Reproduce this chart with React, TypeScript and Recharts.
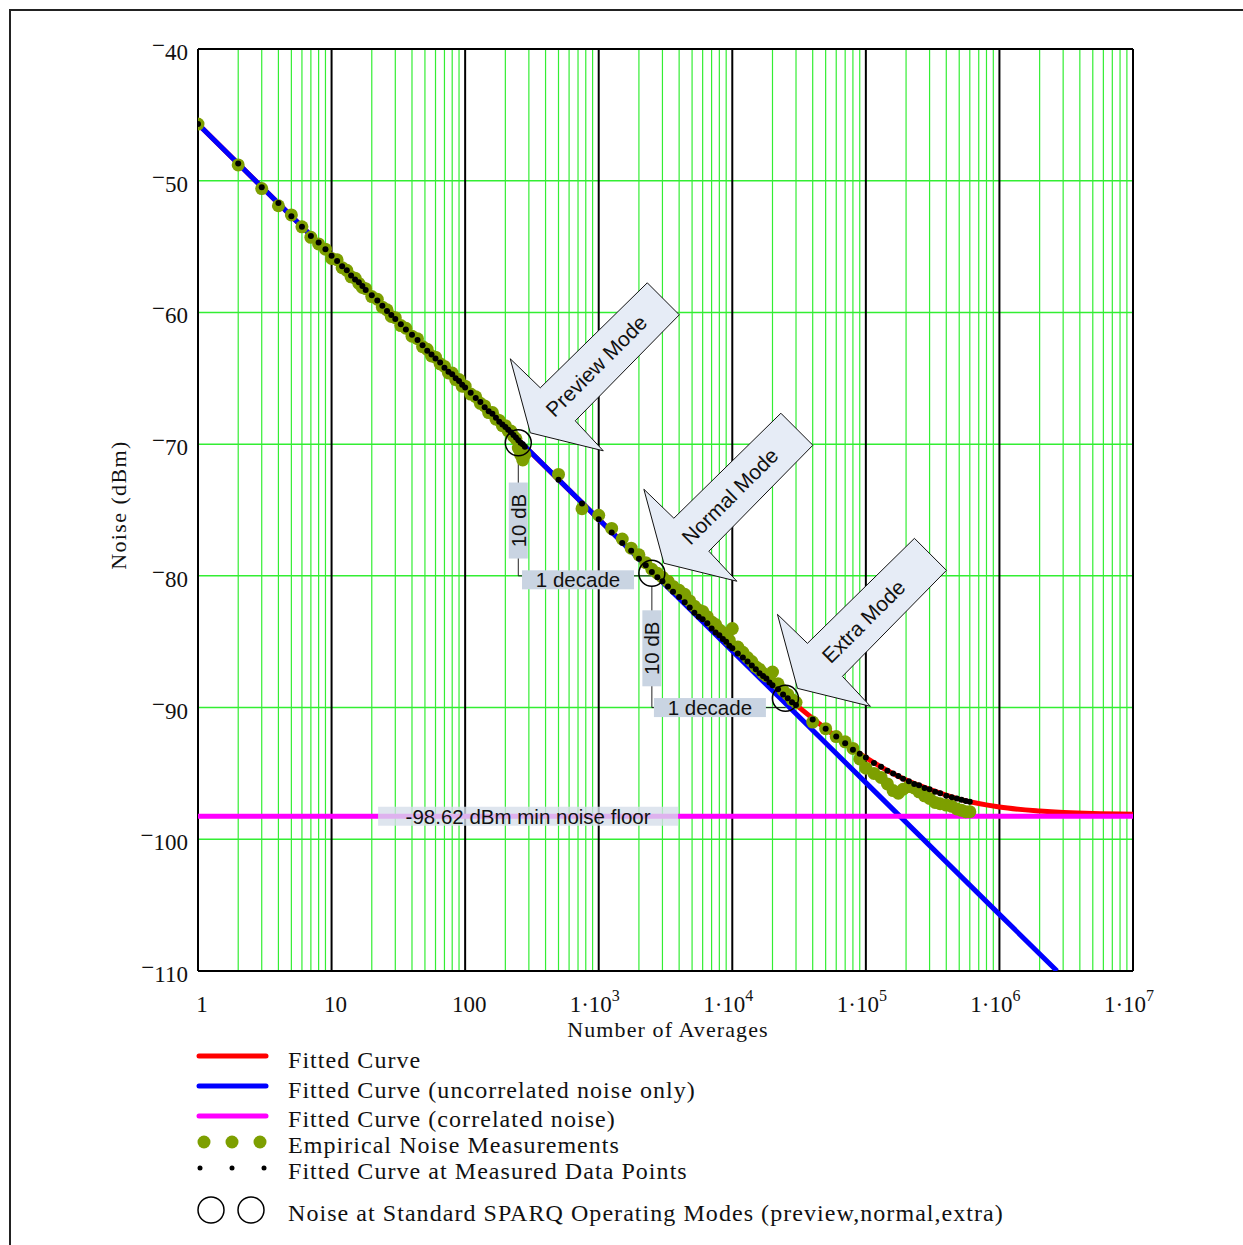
import React from 'react';
import { ComposedChart, Line, Scatter, XAxis, YAxis, ReferenceLine, ReferenceDot } from 'recharts';

const SERIF = '"Liberation Serif", "Times New Roman", serif';
const SANS = '"Liberation Sans", Arial, sans-serif';

// axes
const X_DECADES = [1, 10, 100, 1000, 1e4, 1e5, 1e6, 1e7];
const Y_TICKS = [-110, -100, -90, -80, -70, -60, -50, -40];
const MINOR_STEPS = [2, 3, 4, 5, 6, 7, 8, 9];

// fitted curves (dBm vs number of averages)
const FIT_N = [1, 10, 100, 1000, 3000, 1e4, 2e4, 3e4, 5e4, 1e5, 2e5, 3e5, 5e5, 1e6, 2e6, 5e6, 1e7];
const FIT_DB = [-45.7, -55.7, -65.7, -75.7, -80.4, -85.5, -88.3, -89.8, -91.6, -93.8, -95.5, -96.2, -96.95, -97.55, -97.85, -98.05, -98.1];
const UNCORR_N = [1, 10, 100, 1000, 1e4, 1e5, 1e6, 2.7e6];
const UNCORR_DB = [-45.7, -55.7, -65.7, -75.7, -85.7, -95.7, -105.7, -110];
const FLOOR_DB = -98.25;
const FLOOR_LABEL = '-98.62 dBm min noise floor';

// measurements
const MEAS_N = [1, 2, 3, 4, 5, 6, 7, 8, 9, 10, 11, 12, 13, 14, 15, 16, 17, 18, 20, 22, 24, 26, 28, 30, 33, 36, 40, 44, 48, 52, 56, 60, 65, 70, 75, 80, 85, 90, 95, 100,
  110, 120, 130, 140, 150, 160, 170, 180, 190, 200, 210, 220, 230, 240, 250, 260, 270, 280, 500, 750, 1000, 1250, 1500, 1750, 2000, 2250, 2500, 2750,
  3000, 3300, 3600, 4000, 4400, 4800, 5200, 5600, 6000, 6500, 7000, 7500, 8000, 8500, 9000, 9500, 10000, 11000, 12000, 13000, 14000, 15000, 16000,
  17000, 18000, 19000, 20000, 22000, 24000, 26000, 28000, 30000, 40000, 50000, 60000, 70000, 80000, 90000, 100000, 115000, 130000, 145000, 160000,
  175000, 190000, 210000, 230000, 250000, 275000, 300000, 330000, 360000, 400000, 440000, 480000, 520000, 560000, 600000];
const MEAS_DB = [-45.7, -48.8, -50.6, -51.9, -52.6, -53.5, -54.3, -54.8, -55.2, -55.9, -56.0, -56.6, -56.8, -57.3, -57.4, -57.8, -58.1, -58.2, -58.8, -59.0, -59.6, -59.8, -60.3, -60.4, -61.0, -61.2, -61.8, -62.0, -62.6, -62.8, -63.3, -63.4, -63.9, -64.1, -64.6, -64.6, -65.1, -65.1, -65.6, -65.6,
  -66.2, -66.4, -66.9, -67.1, -67.6, -67.6, -68.1, -68.2, -68.6, -68.6, -69.0, -69.0, -69.4, -69.6, -70.3, -70.8, -71.2, -70.8, -72.3, -74.9, -75.4, -76.4, -77.2, -77.9, -78.4, -79.0, -79.5, -79.8,
  -80.1, -80.4, -80.8, -81.1, -81.4, -81.9, -82.3, -82.6, -82.7, -83.1, -83.5, -83.7, -84.1, -84.3, -84.6, -84.9, -84.0, -85.4, -85.8, -86.2, -86.5, -86.9, -87.1,
  -87.4, -87.6, -87.6, -87.3, -88.2, -88.7, -89.0, -89.4, -89.6, -91.1, -91.6, -92.2, -92.6, -93.1, -93.9, -94.6, -95.0, -95.3, -95.8, -96.3,
  -96.5, -96.2, -96.0, -96.1, -96.4, -96.7, -96.9, -97.2, -97.3, -97.4, -97.5, -97.7, -97.8, -97.9, -97.9];
const FIT_AT_MEAS_DB = [-45.7, -48.7, -50.5, -51.7, -52.7, -53.5, -54.2, -54.7, -55.2, -55.7, -56.1, -56.5, -56.8, -57.2, -57.5, -57.7, -58.0, -58.3, -58.7, -59.1, -59.5, -59.9, -60.2, -60.5, -60.9, -61.3, -61.7, -62.1, -62.5, -62.9, -63.2, -63.5, -63.8, -64.2, -64.5, -64.7, -65.0, -65.2, -65.5, -65.7,
  -66.1, -66.5, -66.8, -67.2, -67.5, -67.7, -68.0, -68.3, -68.5, -68.7, -68.9, -69.1, -69.3, -69.5, -69.7, -69.9, -70.0, -70.2, -72.7, -74.5, -75.7, -76.7, -77.5, -78.1, -78.7, -79.2, -79.7, -80.1,
  -80.4, -80.8, -81.2, -81.6, -82.0, -82.4, -82.8, -83.1, -83.3, -83.6, -84.0, -84.3, -84.5, -84.8, -85.0, -85.3, -85.5, -85.9, -86.2, -86.5, -86.8, -87.1, -87.4,
  -87.6, -87.8, -88.1, -88.3, -88.6, -89.0, -89.3, -89.6, -89.8, -90.9, -91.6, -92.2, -92.7, -93.2, -93.5, -93.8, -94.2, -94.5, -94.8, -95.0,
  -95.2, -95.4, -95.6, -95.8, -95.9, -96.1, -96.2, -96.4, -96.5, -96.7, -96.8, -96.9, -97.0, -97.1, -97.15];

// operating modes and annotations
const MODE_N = [250, 2500, 25000];
const MODE_DB = [-69.9, -79.8, -89.3];
const MODE_NAMES = ['Preview Mode', 'Normal Mode', 'Extra Mode'];
const DB_LABEL_N = [250, 2500];
const DB_LABEL_DB = [-75.8, -85.5];
const DECADE_LABEL_N = [700, 6800];
const DECADE_LABEL_DB = [-80.3, -90.0];
const FLOOR_LABEL_N = 296;

const zip = (ns: number[], vs: number[]) => ns.map((n, i) => ({ n, v: vs[i] }));
const fitData = zip(FIT_N, FIT_DB);
const uncorrData = zip(UNCORR_N, UNCORR_DB);
const floorData = [{ n: 1, v: FLOOR_DB }, { n: 1e7, v: FLOOR_DB }];
const measData = zip(MEAS_N, MEAS_DB);
const fitAtMeasData = zip(MEAS_N, FIT_AT_MEAS_DB);
const minorX = X_DECADES.slice(0, -1).flatMap((d) => MINOR_STEPS.map((s) => s * d));

const GRID_GREEN = '#33ee33';
const OLIVE = '#7d9f00';

const XTick = (props: any) => {
  const { x, y, payload } = props;
  const v = payload.value;
  const exp = Math.round(Math.log10(v));
  const style = { fontFamily: SERIF, fontSize: 23, fill: '#111' };
  if (exp <= 2) {
    return <text x={x + 4} y={y + 41} textAnchor="middle" {...style}>{String(v)}</text>;
  }
  return (
    <text x={x - 4} y={y + 41} textAnchor="middle" {...style}>
      1·10<tspan dy={-11} fontSize={16}>{exp}</tspan>
    </text>
  );
};

const YTick = (props: any) => {
  const { x, y, payload } = props;
  return (
    <text x={x} y={y + 11} textAnchor="end" fontFamily={SERIF} fontSize={23} fill="#111">
      <tspan dy={-7}>−</tspan>
      <tspan dy={7}>{Math.abs(payload.value)}</tspan>
    </text>
  );
};

const TagBox = ({ cx, cy, w, h, text, vertical, fill = '#c9d4e2', opacity = 1, size = 20.5 }: any) => (
  <g>
    <rect x={cx - w / 2} y={cy - h / 2} width={w} height={h} fill={fill} fillOpacity={opacity} />
    <text
      x={cx}
      y={cy}
      textAnchor="middle"
      dominantBaseline="central"
      fontFamily={SANS}
      fontSize={size}
      fill="#111"
      transform={vertical ? `rotate(-90 ${cx} ${cy})` : undefined}
    >
      {text}
    </text>
  </g>
);

const Callout = ({ cx, cy, text }: any) => {
  const tx = cx + 12;
  const ty = cy - 10;
  const pts = [[0, 0], [-20, -74], [10, -45], [117, -150], [149, -118], [45, -12], [73, 18]]
    .map(([dx, dy]) => `${tx + dx},${ty + dy}`)
    .join(' ');
  const lx = tx + 66;
  const ly = ty - 67;
  return (
    <g>
      <polygon points={pts} fill="#e6ecf6" stroke="#111" strokeWidth={1} />
      <text
        x={lx}
        y={ly}
        textAnchor="middle"
        dominantBaseline="central"
        fontFamily={SANS}
        fontSize={21}
        fill="#111"
        transform={`rotate(-45 ${lx} ${ly})`}
      >
        {text}
      </text>
    </g>
  );
};

const LEGEND_ROWS = [
  'Fitted Curve',
  'Fitted Curve (uncorrelated noise only)',
  'Fitted Curve (correlated noise)',
  'Empirical Noise Measurements',
  'Fitted Curve at Measured Data Points',
  'Noise at Standard SPARQ Operating Modes (preview,normal,extra)',
];
const LEGEND_BASELINES = [1068, 1098, 1127, 1153, 1179, 1221];

export default function App() {
  return (
    <div style={{ position: 'relative', width: 1243, height: 1245, overflow: 'hidden', background: '#fff' }}>
      <style>{'body{margin:0}'}</style>
      <div style={{ position: 'absolute', left: 9, top: 9, width: 1300, height: 1300, borderTop: '2px solid #222', borderLeft: '2px solid #222' }} />
      <div style={{ position: 'absolute', left: 0, top: 0 }}>
        <ComposedChart width={1190} height={1050} margin={{ top: 49, right: 57, bottom: 39, left: 138 }}>
          <XAxis
            dataKey="n"
            type="number"
            scale="log"
            domain={[1, 1e7]}
            ticks={X_DECADES}
            allowDataOverflow
            axisLine={false}
            tickLine={false}
            tickSize={0}
            tickMargin={0}
            height={40}
            tick={<XTick />}
          />
          <YAxis
            type="number"
            domain={[-110, -40]}
            ticks={Y_TICKS}
            allowDataOverflow
            axisLine={false}
            tickLine={false}
            tickSize={0}
            tickMargin={10}
            width={60}
            tick={<YTick />}
          />
          {minorX.map((v) => (
            <ReferenceLine key={`mx${v}`} x={v} stroke={GRID_GREEN} strokeWidth={1.2} />
          ))}
          {Y_TICKS.map((v) => (
            <ReferenceLine key={`gy${v}`} y={v} stroke={GRID_GREEN} strokeWidth={1.5} />
          ))}
          {X_DECADES.map((v) => (
            <ReferenceLine key={`dx${v}`} x={v} stroke="#000" strokeWidth={2} />
          ))}
          <ReferenceLine y={-40} stroke="#000" strokeWidth={2} />
          <ReferenceLine y={-110} stroke="#000" strokeWidth={2} />

          <Line data={fitData} dataKey="v" type="monotone" stroke="#ff0000" strokeWidth={5} dot={false} isAnimationActive={false} />
          <Line data={uncorrData} dataKey="v" type="linear" stroke="#0000ff" strokeWidth={5} dot={false} isAnimationActive={false} />
          <Line data={floorData} dataKey="v" type="linear" stroke="#ff00ff" strokeWidth={5} dot={false} isAnimationActive={false} />
          <Scatter
            data={measData}
            dataKey="v"
            isAnimationActive={false}
            shape={(p: any) => <circle cx={p.cx} cy={p.cy} r={6.5} fill={OLIVE} />}
          />
          <Scatter
            data={fitAtMeasData}
            dataKey="v"
            isAnimationActive={false}
            shape={(p: any) => <circle cx={p.cx} cy={p.cy} r={3} fill="#000" />}
          />

          {/* 10 dB / 1 decade brackets */}
          {[0, 1].map((i) => (
            <ReferenceLine
              key={`bv${i}`}
              segment={[{ x: MODE_N[i], y: MODE_DB[i] - 1 }, { x: MODE_N[i], y: -80 - 10 * i }]}
              stroke="#222"
              strokeWidth={1}
            />
          ))}
          {[0, 1].map((i) => (
            <ReferenceLine
              key={`bh${i}`}
              segment={[{ x: MODE_N[i], y: -80 - 10 * i }, { x: MODE_N[i + 1], y: -80 - 10 * i }]}
              stroke="#222"
              strokeWidth={1}
            />
          ))}
          {[0, 1].map((i) => (
            <ReferenceDot
              key={`db${i}`}
              x={DB_LABEL_N[i]}
              y={DB_LABEL_DB[i]}
              shape={(p: any) => <TagBox cx={p.cx} cy={p.cy} w={19} h={76} text="10 dB" vertical />}
            />
          ))}
          {[0, 1].map((i) => (
            <ReferenceDot
              key={`dec${i}`}
              x={DECADE_LABEL_N[i]}
              y={DECADE_LABEL_DB[i]}
              shape={(p: any) => <TagBox cx={p.cx} cy={p.cy} w={112} h={19} text="1 decade" />}
            />
          ))}
          <ReferenceDot
            x={FLOOR_LABEL_N}
            y={FLOOR_DB}
            shape={(p: any) => (
              <TagBox cx={p.cx} cy={p.cy} w={300} h={19} text={FLOOR_LABEL} fill="#d6deea" opacity={0.8} size={20.5} />
            )}
          />
          {MODE_N.map((n, i) => (
            <ReferenceDot key={`c${i}`} x={n} y={MODE_DB[i]} r={13} fill="none" stroke="#000" strokeWidth={1.5} />
          ))}
          {MODE_N.map((n, i) => (
            <ReferenceDot
              key={`a${i}`}
              x={n}
              y={MODE_DB[i]}
              shape={(p: any) => <Callout cx={p.cx} cy={p.cy} text={MODE_NAMES[i]} />}
            />
          ))}
        </ComposedChart>
      </div>

      <svg width={1243} height={1245} style={{ position: 'absolute', left: 0, top: 0, pointerEvents: 'none' }}>
        <text x={118} y={505} textAnchor="middle" dominantBaseline="central" fontFamily={SERIF} fontSize={22} letterSpacing={1.4} fill="#111" transform="rotate(-90 118 505)">
          Noise (dBm)
        </text>
        <text x={668} y={1037} textAnchor="middle" fontFamily={SERIF} fontSize={22} letterSpacing={1.1} fill="#111">
          Number of Averages
        </text>
        <line x1={199} y1={1056} x2={266} y2={1056} stroke="#ff0000" strokeWidth={5} strokeLinecap="round" />
        <line x1={199} y1={1086} x2={266} y2={1086} stroke="#0000ff" strokeWidth={5} strokeLinecap="round" />
        <line x1={199} y1={1116} x2={266} y2={1116} stroke="#ff00ff" strokeWidth={5} strokeLinecap="round" />
        {[204, 232, 260].map((x) => <circle key={`g${x}`} cx={x} cy={1142} r={6.5} fill={OLIVE} />)}
        {[200, 232, 264].map((x) => <circle key={`k${x}`} cx={x} cy={1168} r={2.5} fill="#000" />)}
        {[211, 251].map((x) => <circle key={`o${x}`} cx={x} cy={1210} r={13} fill="none" stroke="#000" strokeWidth={1.5} />)}
        {LEGEND_ROWS.map((t, i) => (
          <text key={t} x={288} y={LEGEND_BASELINES[i]} fontFamily={SERIF} fontSize={24} letterSpacing={1.05} fill="#111">
            {t}
          </text>
        ))}
      </svg>
    </div>
  );
}
